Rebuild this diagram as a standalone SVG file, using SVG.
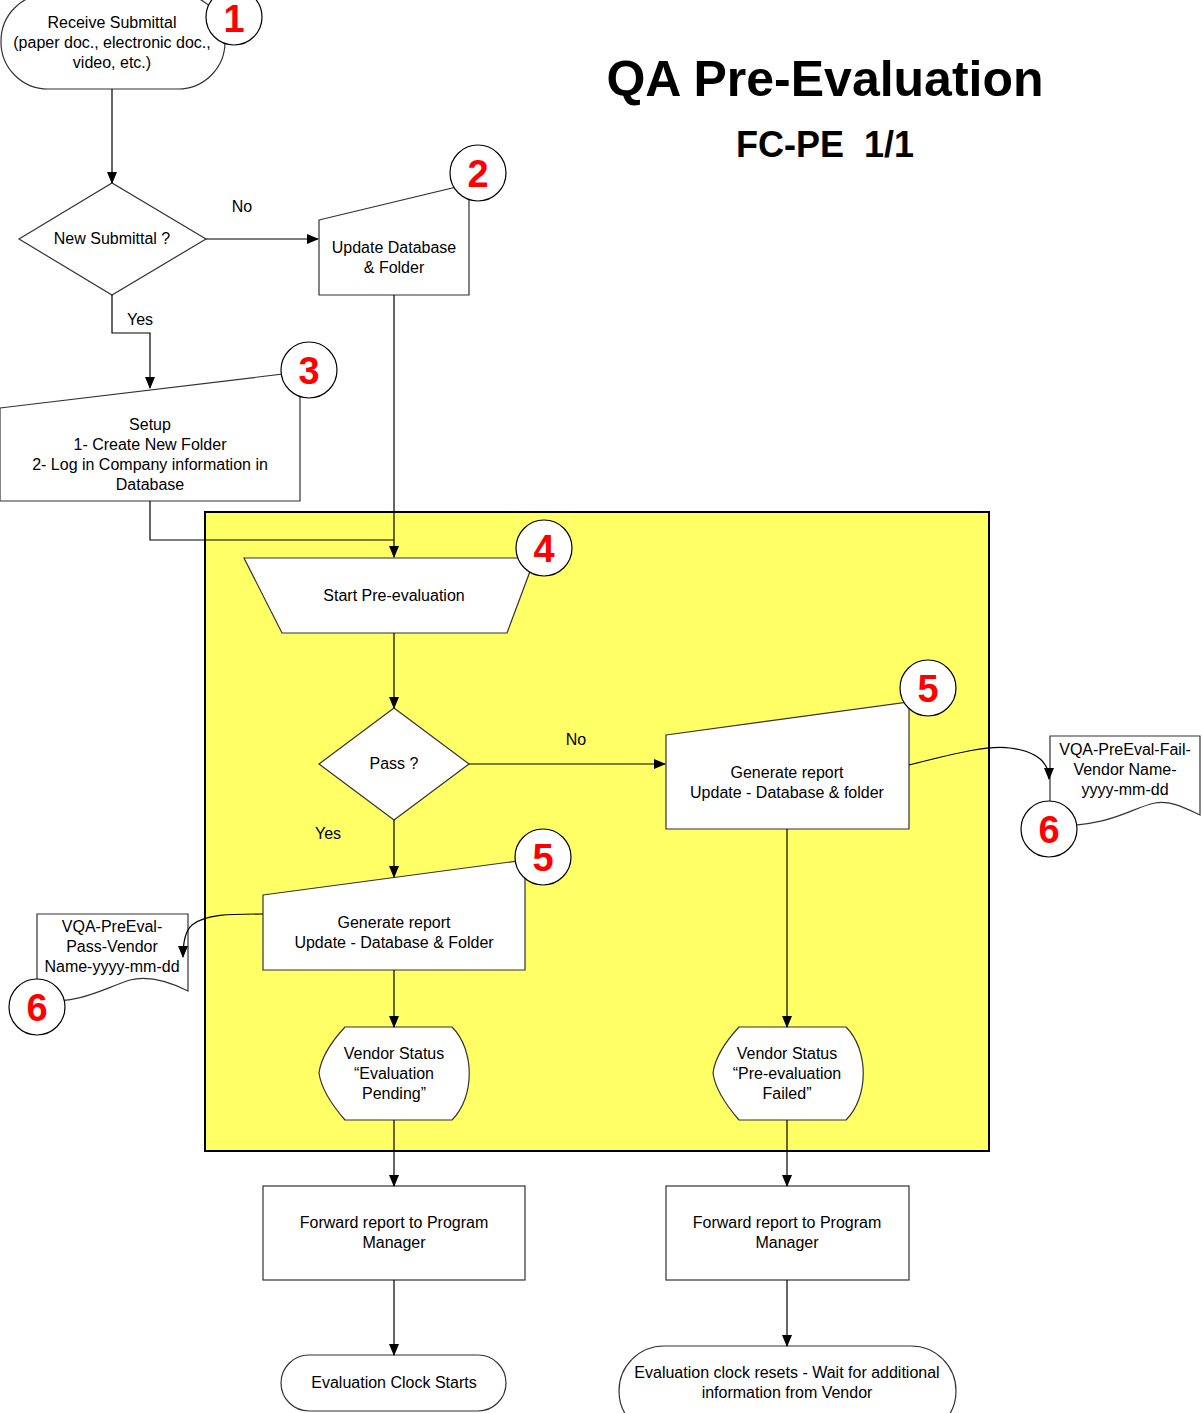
<svg xmlns="http://www.w3.org/2000/svg" width="1202" height="1413" viewBox="0 0 1202 1413">
<style>
.s{fill:#fff;stroke:#333;stroke-width:1.2}
.t{font-family:"Liberation Sans",Arial,sans-serif;font-size:16px;fill:#000;text-anchor:middle}
.n{font-family:"Liberation Sans",Arial,sans-serif;font-size:38px;font-weight:bold;fill:#f00;text-anchor:middle}
.c{fill:#fff;stroke:#000;stroke-width:1.2}
.l{fill:none;stroke:#000;stroke-width:1.2}
.h{font-family:"Liberation Sans",Arial,sans-serif;font-weight:bold;fill:#000;text-anchor:middle}
</style>
<defs>
<marker id="a" markerWidth="12" markerHeight="10" refX="11" refY="5" orient="auto" markerUnits="userSpaceOnUse">
<path d="M0,0 L12,5 L0,10 Z" fill="#000"/>
</marker>
</defs>
<rect x="205" y="512" width="784" height="639" fill="#ffff66" stroke="#000" stroke-width="2"/>
<g id="title">
<text class="h" x="825" y="96" font-size="50">QA Pre-Evaluation</text>
<text class="h" x="825" y="157" font-size="36" xml:space="preserve">FC-PE  1/1</text>
</g>
<g id="n1">
<rect class="s" x="1" y="-6" width="224" height="95" rx="47" ry="47"/>
<text class="t" x="112" y="28">Receive Submittal</text>
<text class="t" x="112" y="48">(paper doc., electronic doc.,</text>
<text class="t" x="112" y="68">video, etc.)</text>
<circle class="c" cx="234" cy="17" r="28"/>
<text class="n" x="234" y="32" font-size="35">1</text>
</g>
<g id="d1">
<path class="s" d="M19,239 L112,183 L206,239 L112,295 Z"/>
<text class="t" x="112" y="244">New Submittal ?</text>
</g>
<g id="n2">
<path class="s" d="M319,220 L469,184 V295 H319 Z"/>
<text class="t" x="394" y="253">Update Database</text>
<text class="t" x="394" y="273">&amp; Folder</text>
<circle class="c" cx="478" cy="173" r="28"/>
<text class="n" x="478" y="187">2</text>
</g>
<g id="n3">
<path class="s" d="M0,408 L300,372 V501 H0 Z"/>
<text class="t" x="150" y="430">Setup</text>
<text class="t" x="150" y="450">1- Create New Folder</text>
<text class="t" x="150" y="470">2- Log in Company information in</text>
<text class="t" x="150" y="490">Database</text>
<circle class="c" cx="309" cy="370" r="28"/>
<text class="n" x="309" y="384">3</text>
</g>
<g id="n4">
<path class="s" d="M244,558 H535 L507,633 H282 Z"/>
<text class="t" x="394" y="601">Start Pre-evaluation</text>
<circle class="c" cx="544" cy="548" r="28"/>
<text class="n" x="544" y="562">4</text>
</g>
<g id="d2">
<path class="s" d="M319,764 L394,708 L469,764 L394,820 Z"/>
<text class="t" x="394" y="769">Pass ?</text>
</g>
<g id="n5r">
<path class="s" d="M666,735 L909,702 V829 H666 Z"/>
<text class="t" x="787" y="778">Generate report</text>
<text class="t" x="787" y="798">Update - Database &amp; folder</text>
<circle class="c" cx="928" cy="688" r="28"/>
<text class="n" x="928" y="702">5</text>
</g>
<g id="doc-fail">
<path class="s" d="M1050,736 H1200 V815 C1185,808 1170,800 1155,803 C1130,808 1115,826 1050,826 Z"/>
<text class="t" x="1125" y="755">VQA-PreEval-Fail-</text>
<text class="t" x="1125" y="775">Vendor Name-</text>
<text class="t" x="1125" y="795">yyyy-mm-dd</text>
<circle class="c" cx="1049" cy="829" r="28"/>
<text class="n" x="1049" y="843">6</text>
</g>
<g id="n5l">
<path class="s" d="M263,895 L525,860 V970 H263 Z"/>
<text class="t" x="394" y="928">Generate report</text>
<text class="t" x="394" y="948">Update - Database &amp; Folder</text>
<circle class="c" cx="543" cy="857" r="28"/>
<text class="n" x="543" y="871">5</text>
</g>
<g id="doc-pass">
<path class="s" d="M37,914 H188 V991 C170,982 150,975 130,980 C100,990 85,1002 37,1002 Z"/>
<text class="t" x="112" y="932">VQA-PreEval-</text>
<text class="t" x="112" y="952">Pass-Vendor</text>
<text class="t" x="112" y="972">Name-yyyy-mm-dd</text>
<circle class="c" cx="37" cy="1007" r="28"/>
<text class="n" x="37" y="1021">6</text>
</g>
<g id="vs1">
<path class="s" d="M345,1027 H452 C475,1050 475,1097 452,1120 H345 C332,1105 321,1088 319,1073 C321,1058 332,1041 345,1027 Z"/>
<text class="t" x="394" y="1059">Vendor Status</text>
<text class="t" x="394" y="1079">“Evaluation</text>
<text class="t" x="394" y="1099">Pending”</text>
</g>
<g id="vs2">
<path class="s" d="M739,1027 H846 C869,1050 869,1097 846,1120 H739 C726,1105 715,1088 713,1073 C715,1058 726,1041 739,1027 Z"/>
<text class="t" x="787" y="1059">Vendor Status</text>
<text class="t" x="787" y="1079">“Pre-evaluation</text>
<text class="t" x="787" y="1099">Failed”</text>
</g>
<g id="fw1">
<rect class="s" x="263" y="1186" width="262" height="94"/>
<text class="t" x="394" y="1228">Forward report to Program</text>
<text class="t" x="394" y="1248">Manager</text>
</g>
<g id="fw2">
<rect class="s" x="666" y="1186" width="243" height="94"/>
<text class="t" x="787" y="1228">Forward report to Program</text>
<text class="t" x="787" y="1248">Manager</text>
</g>
<g id="end1">
<rect class="s" x="281" y="1355" width="225" height="56" rx="28" ry="28"/>
<text class="t" x="394" y="1388">Evaluation Clock Starts</text>
</g>
<g id="end2">
<rect class="s" x="619" y="1346" width="337" height="90" rx="45" ry="45"/>
<text class="t" x="787" y="1378">Evaluation clock resets - Wait for additional</text>
<text class="t" x="787" y="1398">information from Vendor</text>
</g>
<g id="connectors">
<path class="l" d="M112,89 V183" marker-end="url(#a)"/>
<path class="l" d="M206,239 H318" marker-end="url(#a)"/>
<path class="l" d="M112,295 V333 H150 V388" marker-end="url(#a)"/>
<path class="l" d="M394,295 V557" marker-end="url(#a)"/>
<path class="l" d="M150,501 V540 H394"/>
<path class="l" d="M394,633 V708" marker-end="url(#a)"/>
<path class="l" d="M469,764 H665" marker-end="url(#a)"/>
<path class="l" d="M394,820 V877" marker-end="url(#a)"/>
<path class="l" d="M909,765 C960,752 990,745 1010,748 C1040,752 1049,765 1049,779" marker-end="url(#a)"/>
<path class="l" d="M263,914 C230,914 205,914 192,925 C184,932 183,945 183,957" marker-end="url(#a)"/>
<path class="l" d="M394,970 V1027" marker-end="url(#a)"/>
<path class="l" d="M787,829 V1027" marker-end="url(#a)"/>
<path class="l" d="M394,1120 V1186" marker-end="url(#a)"/>
<path class="l" d="M787,1120 V1186" marker-end="url(#a)"/>
<path class="l" d="M394,1280 V1355" marker-end="url(#a)"/>
<path class="l" d="M787,1280 V1346" marker-end="url(#a)"/>
<text class="t" x="242" y="212">No</text>
<text class="t" x="140" y="325">Yes</text>
<text class="t" x="576" y="745">No</text>
<text class="t" x="328" y="839">Yes</text>
</g>
</svg>
